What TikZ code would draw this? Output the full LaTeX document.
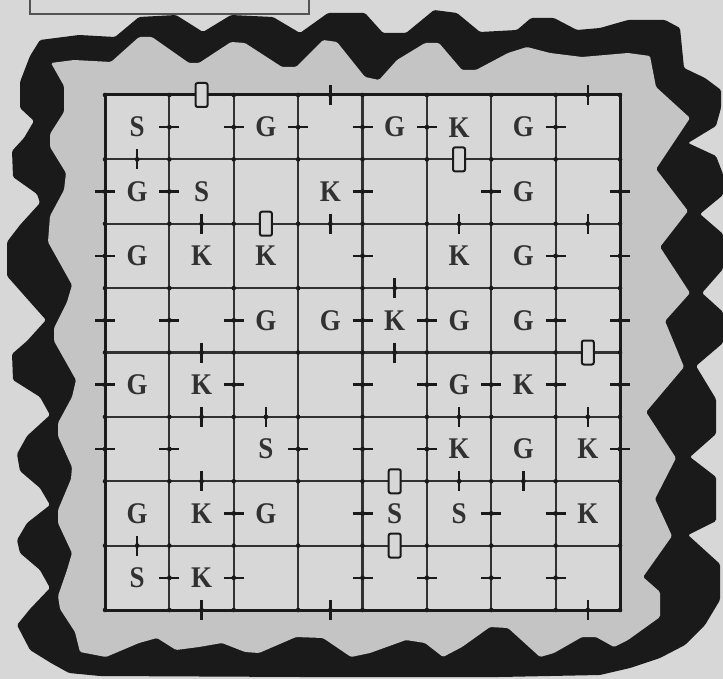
\documentclass[tikz,border=0pt]{standalone}
\usepackage{fontspec}
\newfontfamily\mapfont[FakeStretch=0.9]{Liberation Serif}
\definecolor{paper}{HTML}{D7D7D7}
\definecolor{stip}{HTML}{C4C4C4}
\definecolor{ink}{HTML}{1A1A1A}
\tikzset{
 gridln/.style={draw=ink!90, line width=2.1pt},
 gridborder/.style={draw=ink, line width=3pt},
 tickmark/.style={draw=ink, line width=2.4pt},
 keybox/.style={draw=ink, line width=2pt, fill=paper, rounded corners=2pt},
 lt/.style={font=\mapfont\bfseries\fontsize{30}{30}\selectfont, text=ink!90, inner sep=0pt},
 band/.style={fill=ink, rounded corners=1.5pt},
 stipple/.style={fill=stip, rounded corners=1.5pt},
 boxline/.style={draw=ink!75, line width=1.3pt},
}
\begin{document}
\begin{tikzpicture}[x=1pt,y=-1pt]
\useasboundingbox (0,0) rectangle (723,679);
\fill[paper] (0,0) rectangle (723,679);
% top-left box
\draw[boxline] (30,-5) -- (30,14) -- (309,14) -- (309,-5);
% black wavy band (outer edge)
\path[band] (40,40) -- (79,35) -- (115,37) -- (139,17) -- (176,15) -- (203,32) -- (231,15) -- (273,17) -- (300,33) -- (328,13) -- (365,13) -- (383,33) -- (406,33) -- (434,10) -- (457,13) -- (480,32) -- (517,30) -- (531,18) -- (554,18) -- (577,30) -- (600,28) -- (628,20) -- (665,20) -- (680,28) -- (684,68) -- (705,78) -- (721,90)
 -- (721,108) -- (716,126) -- (688,143) -- (716,156) -- (723,174) -- (723,195) -- (700,214) -- (723,234) -- (723,269) -- (702,293) -- (723,312) -- (723,343) -- (696,366) -- (716,399) -- (716,434) -- (690,457) -- (716,477) -- (716,521) -- (688,535) -- (720,564) -- (720,600) -- (705,625) -- (685,645) -- (660,658) -- (630,668) -- (600,675)
 -- (500,677) -- (300,677) -- (100,676) -- (69,673) -- (51,663) -- (30,650) -- (17,625)
 -- (30,609) -- (50,588) -- (40,570) -- (20,553) -- (17,540) -- (27,523) -- (50,505) -- (40,488) -- (20,471) -- (17,454) -- (27,436) -- (50,415) -- (40,397) -- (13,380) -- (12,354) -- (27,341) -- (46,320) -- (30,302) -- (7,276) -- (7,242) -- (20,225) -- (40,203) -- (37,194) -- (13,177) -- (12,151) -- (24,138) -- (34,121) -- (20,108) -- (20,82) -- (30,56) -- cycle;
% stippled margin (inner edge)
\path[stipple] (51,63) -- (74,60) -- (111,62) -- (139,37) -- (152,37) -- (189,63) -- (199,63) -- (231,42) -- (245,43) -- (282,67) -- (296,67) -- (323,40) -- (337,42) -- (365,77) -- (379,80) -- (397,60) -- (425,43) -- (439,43) -- (462,70) -- (476,70) -- (508,53) -- (527,47) -- (550,53) -- (582,57) -- (628,53) -- (650,56)
 -- (656,87) -- (690,118) -- (656,169) -- (688,211) -- (660,247) -- (690,293) -- (665,321) -- (684,367) -- (646,412) -- (676,458) -- (655,499) -- (672,536) -- (643,577) -- (660,592) -- (660,617) -- (628,640) -- (614,647) -- (596,637) -- (582,637) -- (554,653) -- (540,657) -- (508,628) -- (490,627) -- (462,647) -- (443,657) -- (425,643) -- (406,640) -- (370,653) -- (351,657) -- (323,638) -- (296,637) -- (259,653) -- (245,652) -- (222,643) -- (199,647) -- (176,650) -- (157,638) -- (139,643) -- (106,657) -- (80,652) -- (75,632)
 -- (60,609) -- (58,596) -- (67,570) -- (72,553) -- (58,523) -- (58,510) -- (71,479) -- (72,467) -- (58,436) -- (58,423) -- (72,397) -- (76,380) -- (54,341) -- (54,328) -- (67,302) -- (72,285) -- (48,242) -- (50,216) -- (64,190) -- (66,173) -- (50,147) -- (50,134) -- (64,112) -- (64,86) -- cycle;
% board
\fill[paper] (105,95) rectangle (620,610);
\foreach \k in {1,...,7} {
  \draw[gridln] ({105+64.375*\k},95) -- ({105+64.375*\k},610);
  \draw[gridln] (105,{95+64.375*\k}) -- (620,{95+64.375*\k});
}
\draw[gridborder] (105,95) rectangle (620,610);
\foreach \i in {0,...,8} \foreach \j in {0,...,8}
  \fill[ink] ({105+64.375*\i},{95+64.375*\j}) circle (2.3pt);
% door ticks across vertical lines (line i, row r)
\foreach \i/\r in {1/0,2/0,3/0,4/0,5/0,7/0,
  0/1,1/1,4/1,6/1,8/1,
  0/2,4/2,7/2,8/2,
  0/3,1/3,2/3,4/3,5/3,7/3,8/3,
  0/4,2/4,4/4,5/4,6/4,7/4,8/4,
  0/5,1/5,3/5,4/5,5/5,8/5,
  2/6,4/6,6/6,7/6,
  1/7,2/7,4/7,5/7,6/7,7/7} {
  \draw[tickmark] ({105+64.375*\i-10},{95+64.375*(\r+0.5)}) -- ++(20,0);
  \fill[ink] ({105+64.375*\i},{95+64.375*(\r+0.5)}) circle (2.4pt);
}
% door ticks across horizontal lines (line j, column c)
\foreach \j/\cx in {0/3,0/7, 1/0, 2/1,2/3,2/5,2/7, 3/4, 4/1,4/4, 5/1,5/2,5/5,5/7, 6/1,6/5,6/6, 7/0, 8/1,8/3,8/7} {
  \draw[tickmark] ({105+64.375*(\cx+0.5)},{95+64.375*\j-10}) -- ++(0,20);
  \fill[ink] ({105+64.375*(\cx+0.5)},{95+64.375*\j}) circle (2.4pt);
}
% small boxes on horizontal lines
\foreach \j/\cx in {0/1, 1/5, 2/2, 4/7, 6/4, 7/4}
  \draw[keybox] ({105+64.375*(\cx+0.5)-6},{95+64.375*\j-12}) rectangle ++(12,24);
% letters
\foreach \cx/\ry/\lab in {0/0/S,2/0/G,4/0/G,5/0/K,6/0/G,
  0/1/G,1/1/S,3/1/K,6/1/G,
  0/2/G,1/2/K,2/2/K,5/2/K,6/2/G,
  2/3/G,3/3/G,4/3/K,5/3/G,6/3/G,
  0/4/G,1/4/K,5/4/G,6/4/K,
  2/5/S,5/5/K,6/5/G,7/5/K,
  0/6/G,1/6/K,2/6/G,4/6/S,5/6/S,7/6/K,
  0/7/S,1/7/K}
  \node[lt] (L-\cx-\ry) at ({105+64.375*(\cx+0.5)},{95+64.375*(\ry+0.5)}) {\lab};
\end{tikzpicture}
\end{document}
